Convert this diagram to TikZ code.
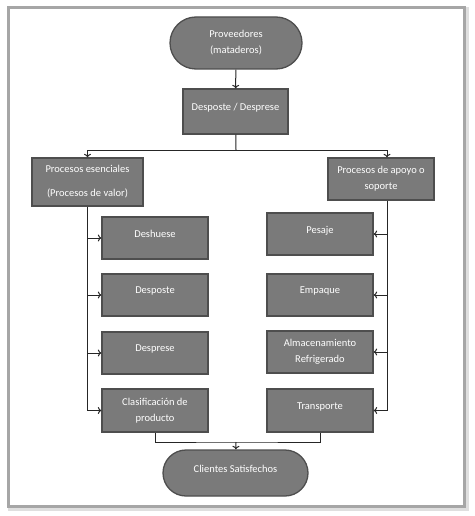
\documentclass[tikz,border=0pt]{standalone}
\usepackage{fontspec}
\setmainfont{Carlito}
\usetikzlibrary{shapes.misc,arrows.meta}
\definecolor{boxfill}{HTML}{7A7A7A}
\definecolor{boxline}{HTML}{4E4E4E}
\definecolor{wire}{HTML}{262626}
\def\bw{106}

\begin{document}
\begin{tikzpicture}[x=1pt, y=-1pt, line width=1pt, draw=wire, >={To[length=3.5pt,width=7pt]},
	every node/.style={fill=boxfill,draw=boxline,line width=1.3pt,text=white,font=\fontsize{10.5}{16}\selectfont,align=center,inner sep=2pt},
	procbox/.style={rectangle,minimum width=\bw pt,minimum height=42pt},
	oneline/.style={text depth=9pt},
	endbox/.style={rounded rectangle}]
		\useasboundingbox (0,0) rectangle (474,516);
		\draw[gray!25, line width=5pt] (10,9.5) rectangle (466,508.5);
		\draw[gray!70, line width=3pt, fill=white] (8.5,7.5) rectangle (464.5,506.5);
		
		\node (prov) at (236,43) [endbox, minimum width=136pt, minimum height=52pt]  {Proveedores\\(mataderos)};
		\node (dd) at (235.5,111.5) [procbox, oneline, minimum width=105pt, minimum height=45pt]  {Desposte / Desprese};
		
		\node (esen) at (87.5,182) [procbox, minimum width=111pt, minimum height=48pt]  {Procesos esenciales\\[8pt](Procesos de valor)};
		\node (apoyo) at (381,179) [procbox]  {Procesos de apoyo o\\soporte};
		
		\node (desh) at (155,238) [procbox, oneline]  {Deshuese};
		\node (despo) at (155,295) [procbox, oneline]  {Desposte};
		\node (despr) at (155,353) [procbox, oneline]  {Desprese};
		\node (clas) at (155,410.5) [procbox, minimum height=43pt]  {Clasificación de\\producto};
		
		\node (pes) at (320,234) [procbox, oneline]  {Pesaje};
		\node (emp) at (320,295) [procbox, oneline]  {Empaque};
		\node (alm) at (320,352) [procbox]  {Almacenamiento\\Refrigerado};
		\node (trans) at (320,410.5) [procbox, oneline, minimum height=43pt]  {Transporte};
		
		\node (cli) at (235.5,473) [endbox, oneline, minimum width=149pt, minimum height=46pt]  {Clientes Satisfechos};
		
		\coordinate (split) at (236,150);
		\coordinate (join) at (236,442);
		
		\draw[->] (prov) to (dd);
		\draw[-] (dd) to (split);
		\draw[->] (split) -| (esen.north);
		\draw[->] (split) -| ([xshift=6pt]apoyo.north);
		
		\draw[->] (esen.south) |- (clas.west);
		\draw[->] (esen.south |- desh.west) to (desh.west);
		\draw[->] (esen.south |- despo.west) to (despo.west);
		\draw[->] (esen.south |- despr.west) to (despr.west);
		
		\draw[->] ([xshift=6pt]apoyo.south) |- (trans.east);
		\draw[->] ([xshift=6pt]apoyo.south |- pes.east) to (pes.east);
		\draw[->] ([xshift=6pt]apoyo.south |- emp.east) to (emp.east);
		\draw[->] ([xshift=6pt]apoyo.south |- alm.east) to (alm.east);
		
		\draw[-] (clas.south) |- (join) -| (trans.south);
		\draw[->] (join) to (cli);
		
	\end{tikzpicture}
\end{document}
